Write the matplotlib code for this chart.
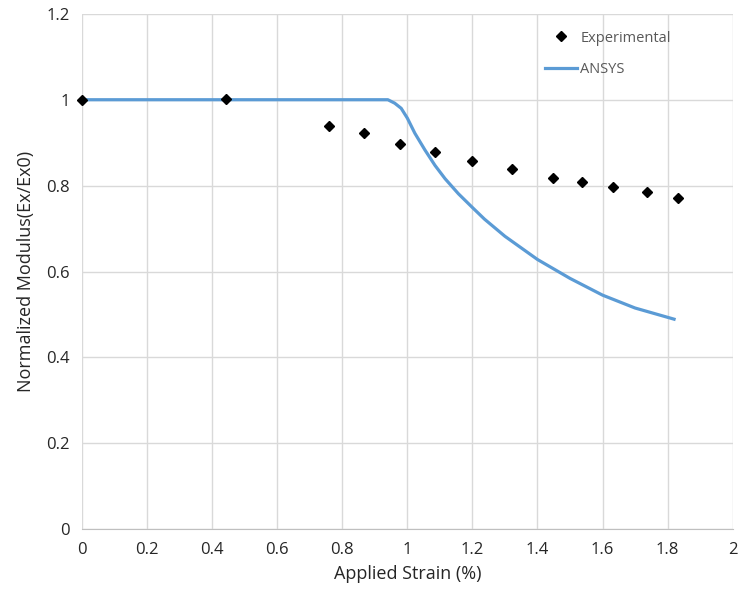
import matplotlib
matplotlib.use("Agg")
import matplotlib.pyplot as plt

# experimental data
exp_strain = [0.0, 0.443, 0.760, 0.867, 0.978, 1.086, 1.198, 1.323, 1.447, 1.538, 1.631, 1.737, 1.831]
exp_modulus = [1.0, 1.002, 0.939, 0.922, 0.896, 0.878, 0.858, 0.838, 0.818, 0.809, 0.796, 0.784, 0.772]

# ANSYS curve
ansys_strain = [0.0, 0.94, 0.961, 0.981, 1.0, 1.023, 1.054, 1.085, 1.116, 1.157, 1.2, 1.237,
                1.3, 1.4, 1.5, 1.6, 1.7, 1.82]
ansys_modulus = [1.0, 1.0, 0.992, 0.98, 0.957, 0.922, 0.883, 0.847, 0.816, 0.781, 0.749, 0.722,
                 0.682, 0.628, 0.584, 0.545, 0.515, 0.489]

plt.rcParams['font.family'] = ['Open Sans', 'DejaVu Sans']

fig = plt.figure(figsize=(7.4, 6.02), dpi=100)
ax = fig.add_axes([0.111, 0.121, 0.879, 0.856])

ax.plot(ansys_strain, ansys_modulus, color='#5B9BD5', lw=2.3, label='ANSYS', zorder=3)
ax.plot(exp_strain, exp_modulus, 'D', color='black', ms=5.5, ls='none',
        label='Experimental', zorder=4, clip_on=False)

ax.set_xlim(0, 2)
ax.set_ylim(0, 1.2)
ax.set_xticks([0, 0.2, 0.4, 0.6, 0.8, 1, 1.2, 1.4, 1.6, 1.8, 2])
ax.set_xticklabels(['0', '0.2', '0.4', '0.6', '0.8', '1', '1.2', '1.4', '1.6', '1.8', '2'])
ax.set_yticks([0, 0.2, 0.4, 0.6, 0.8, 1, 1.2])
ax.set_yticklabels(['0', '0.2', '0.4', '0.6', '0.8', '1', '1.2'])
ax.grid(True, color='#D9D9D9', lw=1)
ax.set_axisbelow(True)
for s in ['top', 'right', 'left']:
    ax.spines[s].set_visible(False)
ax.spines['bottom'].set_color('#BFBFBF')
ax.tick_params(length=0, labelsize=12, colors='#262626', pad=9)

ax.set_xlabel('Applied Strain (%)', fontsize=13, color='#262626', labelpad=5)
ax.set_ylabel('Normalized Modulus(Ex/Ex0)', fontsize=13, color='#262626', labelpad=8)

handles, labels = ax.get_legend_handles_labels()
leg = ax.legend(handles[::-1], labels[::-1], loc='upper left', bbox_to_anchor=(0.692, 0.993),
                frameon=False, fontsize=10.5, handlelength=2.2, handletextpad=0.2,
                labelspacing=1.15)
for t in leg.get_texts():
    t.set_color('#595959')

fig.savefig('out.png', dpi=100)
